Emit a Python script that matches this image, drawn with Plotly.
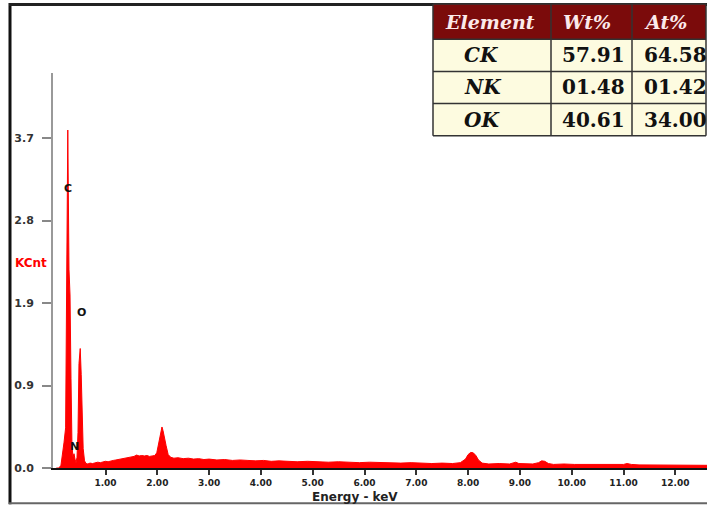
import plotly.graph_objects as go

# EDS spectrum: energy (keV) vs intensity (KCnt)
energy_kev = [
    0.05, 0.10, 0.14, 0.17, 0.20, 0.23, 0.247, 0.272, 0.295, 0.315,
    0.334, 0.353, 0.373, 0.392, 0.411, 0.431, 0.450, 0.469, 0.488, 0.512,
    0.531, 0.550, 0.569, 0.595, 0.624, 0.66, 0.70, 0.75, 0.80, 0.85,
    0.90, 0.95, 1.00, 1.05, 1.10, 1.15, 1.20, 1.25, 1.30, 1.35,
    1.40, 1.45, 1.50, 1.55, 1.60, 1.65, 1.70, 1.75, 1.80, 1.85,
    1.90, 1.95, 1.99, 2.03, 2.06, 2.09, 2.11, 2.14, 2.17, 2.21,
    2.26, 2.32, 2.40, 2.50, 2.60, 2.70, 2.80, 2.90, 3.00, 3.15,
    3.30, 3.45, 3.60, 3.75, 3.90, 4.05, 4.20, 4.35, 4.50, 4.70,
    4.90, 5.10, 5.30, 5.50, 5.70, 5.90, 6.10, 6.30, 6.50, 6.70,
    6.90, 7.10, 7.30, 7.50, 7.70, 7.85, 7.95, 8.00, 8.05, 8.10,
    8.15, 8.20, 8.27, 8.40, 8.60, 8.80, 8.87, 8.92, 8.98, 9.10,
    9.25, 9.36, 9.42, 9.48, 9.55, 9.65, 9.85, 10.05, 10.25, 10.45,
    10.65, 10.85, 11.00, 11.07, 11.15, 11.30, 11.50, 11.70, 11.90, 12.10,
    12.30, 12.50, 12.62,
]
counts_kcnt = [
    0.0, 0.0, 0.03, 0.14, 0.29, 0.45, 2.23, 3.79, 2.23, 1.94,
    1.00, 0.25, 0.12, 0.16, 0.10, 0.06, 0.12, 0.40, 1.17, 1.34,
    1.05, 0.52, 0.22, 0.08, 0.05, 0.045, 0.055, 0.05, 0.06, 0.065,
    0.06, 0.07, 0.075, 0.07, 0.08, 0.085, 0.09, 0.095, 0.10, 0.11,
    0.115, 0.12, 0.125, 0.13, 0.145, 0.135, 0.14, 0.135, 0.14, 0.13,
    0.135, 0.14, 0.17, 0.30, 0.40, 0.46, 0.42, 0.32, 0.25, 0.15,
    0.12, 0.11, 0.115, 0.105, 0.11, 0.10, 0.105, 0.095, 0.10, 0.09,
    0.095, 0.085, 0.09, 0.085, 0.08, 0.085, 0.075, 0.08, 0.075, 0.07,
    0.075, 0.07, 0.065, 0.07, 0.065, 0.06, 0.065, 0.06, 0.06, 0.055,
    0.06, 0.055, 0.05, 0.055, 0.05, 0.06, 0.10, 0.15, 0.175, 0.17,
    0.14, 0.09, 0.055, 0.045, 0.05, 0.045, 0.055, 0.065, 0.05, 0.045,
    0.045, 0.06, 0.08, 0.075, 0.05, 0.04, 0.045, 0.04, 0.04, 0.035,
    0.04, 0.035, 0.04, 0.05, 0.04, 0.035, 0.035, 0.03, 0.035, 0.03,
    0.03, 0.03, 0.03,
]

# Axis ticks
x_tick_vals = [1, 2, 3, 4, 5, 6, 7, 8, 9, 10, 11, 12]
x_tick_text = ["1.00", "2.00", "3.00", "4.00", "5.00", "6.00", "7.00",
               "8.00", "9.00", "10.00", "11.00", "12.00"]
y_tick_vals = [0, 0.925, 1.85, 2.775, 3.7]
y_tick_text = ["0.0", "0.9", "1.9", "2.8", "3.7"]

# Peak identification labels
peak_labels = ["C", "N", "O"]
peak_label_x = [0.267, 0.411, 0.546]
peak_label_y = [3.13, 0.24, 1.74]

# Quantification table
table_header = ["Element", "Wt%", "At%"]
elements = ["CK", "NK", "OK"]
wt_pct = ["57.91", "01.48", "40.61"]
at_pct = ["64.58", "01.42", "34.00"]

W, H = 707, 512
# vertical pixel scale used when placing items in paper coordinates
PX_H = 502.3


def fx(px):
    return px / W


def fy(py):
    return 1 - py / PX_H


fig = go.Figure()
fig.add_trace(go.Scatter(
    x=energy_kev, y=counts_kcnt, mode="lines",
    line=dict(color="#ff0000", width=1),
    fill="tozeroy", fillcolor="#ff0000",
    hoverinfo="skip", showlegend=False,
))

shapes = []
annotations = []

# Outer frame
shapes.append(dict(type="line", xref="paper", yref="paper",
                   x0=fx(10), x1=fx(10), y0=fy(3), y1=fy(501.5),
                   line=dict(color="#111111", width=3)))
shapes.append(dict(type="line", xref="paper", yref="paper",
                   x0=fx(9), x1=fx(707), y0=fy(4.5), y1=fy(4.5),
                   line=dict(color="#222222", width=3)))
shapes.append(dict(type="line", xref="paper", yref="paper",
                   x0=fx(9), x1=fx(707), y0=fy(500.5), y1=fy(500.5),
                   line=dict(color="#666666", width=2)))

# Table
col_edges = [433, 551, 632, 706]
row_edges = [4, 39, 71, 103, 135]
shapes.append(dict(type="rect", xref="paper", yref="paper", layer="above",
                   x0=fx(col_edges[0]), x1=fx(col_edges[-1]),
                   y0=fy(row_edges[0]), y1=fy(row_edges[1]),
                   fillcolor="#7b0b0b", line=dict(width=0)))
shapes.append(dict(type="rect", xref="paper", yref="paper", layer="above",
                   x0=fx(col_edges[0]), x1=fx(col_edges[-1]),
                   y0=fy(row_edges[1]), y1=fy(row_edges[-1]),
                   fillcolor="#fdfbe0", line=dict(width=0)))
for r in row_edges:
    shapes.append(dict(type="line", xref="paper", yref="paper", layer="above",
                       x0=fx(col_edges[0]), x1=fx(col_edges[-1]),
                       y0=fy(r), y1=fy(r),
                       line=dict(color="#333333", width=1.5)))
for c in col_edges:
    shapes.append(dict(type="line", xref="paper", yref="paper", layer="above",
                       x0=fx(c), x1=fx(c), y0=fy(row_edges[0]), y1=fy(row_edges[-1]),
                       line=dict(color="#333333", width=1.5)))

header_font = dict(family="DejaVu Serif", size=19, color="#fbeaea",
                   weight="bold", style="italic")
for i, h in enumerate(table_header):
    annotations.append(dict(xref="paper", yref="paper",
                            x=fx(col_edges[i] + 10),
                            y=fy((row_edges[0] + row_edges[1]) / 2),
                            text=h, showarrow=False, xanchor="left",
                            yanchor="middle", font=header_font))

row_font_it = dict(family="DejaVu Serif", size=20, color="#111111",
                   weight="bold", style="italic")
row_font = dict(family="DejaVu Serif", size=20, color="#111111", weight="bold")
for j in range(len(elements)):
    yc = fy((row_edges[j + 1] + row_edges[j + 2]) / 2)
    annotations.append(dict(xref="paper", yref="paper", x=fx(462), y=yc,
                            text=elements[j], showarrow=False, xanchor="left",
                            yanchor="middle", font=row_font_it))
    annotations.append(dict(xref="paper", yref="paper", x=fx(col_edges[1] + 9), y=yc,
                            text=wt_pct[j], showarrow=False, xanchor="left",
                            yanchor="middle", font=row_font))
    annotations.append(dict(xref="paper", yref="paper", x=fx(col_edges[2] + 10), y=yc,
                            text=at_pct[j], showarrow=False, xanchor="left",
                            yanchor="middle", font=row_font))

# Peak labels
for lab, lx, ly in zip(peak_labels, peak_label_x, peak_label_y):
    annotations.append(dict(x=lx, y=ly, xref="x", yref="y", text=lab,
                            showarrow=False, xanchor="center", yanchor="middle",
                            font=dict(family="DejaVu Sans", size=11,
                                      color="#111111", weight="bold")))

# Axis titles
annotations.append(dict(xref="paper", yref="paper", x=fx(31), y=fy(262),
                        text="KCnt", showarrow=False,
                        xanchor="center", yanchor="middle",
                        font=dict(family="DejaVu Sans", size=12,
                                  color="#ff0000", weight="bold")))
annotations.append(dict(xref="paper", yref="paper", x=fx(355), y=fy(494),
                        text="Energy - keV", showarrow=False,
                        xanchor="center", yanchor="middle",
                        font=dict(family="DejaVu Sans", size=12,
                                  color="#222222", weight="bold")))

fig.update_layout(
    width=W, height=H,
    margin=dict(l=0, r=0, t=0, b=0),
    paper_bgcolor="white", plot_bgcolor="white",
    shapes=shapes, annotations=annotations,
    xaxis=dict(
        domain=[fx(53), 1], range=[-0.0135, 12.612],
        tickvals=x_tick_vals, ticktext=x_tick_text,
        ticks="outside", ticklen=5, tickwidth=1.5, tickcolor="#333333",
        showline=True, linecolor="#111111", linewidth=2,
        showgrid=False, zeroline=False,
        tickfont=dict(family="DejaVu Sans", size=9, color="#222222", weight="bold"),
    ),
    yaxis=dict(
        domain=[fy(465.5), fy(73)], range=[0, 4.425],
        tickvals=y_tick_vals, ticktext=y_tick_text,
        ticks="outside", ticklen=9, tickwidth=1.5, tickcolor="#888888",
        showline=True, linecolor="#999999", linewidth=2,
        showgrid=False, zeroline=False,
        tickfont=dict(family="DejaVu Sans", size=11, color="#333333", weight="bold"),
        ticklabelstandoff=6,
    ),
)

fig.write_html("out.html")
